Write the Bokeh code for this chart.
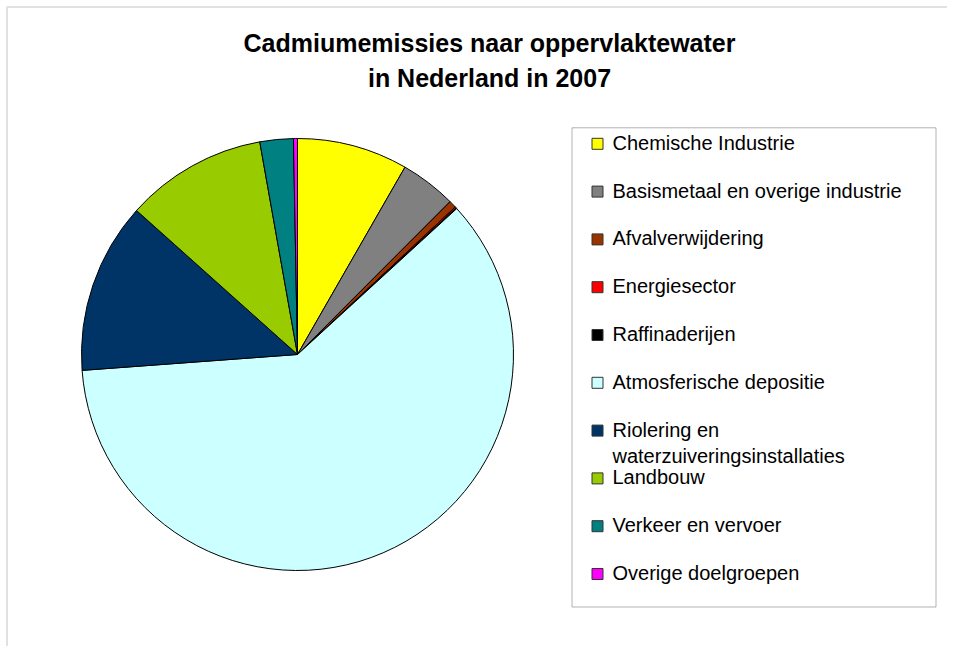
import math
from bokeh.plotting import figure
from bokeh.models import Range1d, BoxAnnotation, ColumnDataSource
from bokeh.core.properties import value
from bokeh.embed import file_html
from bokeh.resources import INLINE

# ---- data (share of cadmium emissions, %) ----
categories = [
    "Chemische Industrie",
    "Basismetaal en overige industrie",
    "Afvalverwijdering",
    "Energiesector",
    "Raffinaderijen",
    "Atmosferische depositie",
    "Riolering en\nwaterzuiveringsinstallaties",
    "Landbouw",
    "Verkeer en vervoer",
    "Overige doelgroepen",
]
values = [8.3, 4.2, 0.55, 0.1, 0.06, 60.7, 12.8, 10.6, 2.5, 0.3]
colors = ["#FFFF00", "#808080", "#993300", "#FF0000", "#000000",
          "#CCFFFF", "#003366", "#99CC00", "#008080", "#FF00FF"]
title_lines = ["Cadmiumemissies naar oppervlaktewater", "in Nederland in 2007"]

# ---- layout (pixel-like data space, y up) ----
W, H = 947, 646
cx, cy, R = 297, 292, 216
font = value("Liberation Sans")

p = figure(width=W, height=H, x_range=Range1d(0, W), y_range=Range1d(0, H),
           output_backend="svg", toolbar_location=None,
           x_axis_location=None, y_axis_location=None, min_border=0,
           outline_line_color=None, background_fill_color="white",
           border_fill_color="white")
p.grid.visible = False

# outer chart border (only top and left visible in the crop)
p.add_layout(BoxAnnotation(left=6.5, right=W + 60, top=H - 6.5, bottom=-60,
                           fill_color=None, line_color="#9A9A9A", line_width=2,
                           level="underlay"))

# ---- pie ----
total = sum(values)
starts, ends = [], []
acc = 0.0
for v in values:
    starts.append(math.pi / 2 - 2 * math.pi * acc / total)
    acc += v
    ends.append(math.pi / 2 - 2 * math.pi * acc / total)
src = ColumnDataSource(dict(start=starts, end=ends, color=colors, cat=categories))
p.wedge(x=cx, y=cy, radius=R, start_angle="start", end_angle="end",
        direction="clock", fill_color="color", line_color="black",
        line_width=1, source=src)

# ---- title ----
title_y = [604, 569]
p.text(x=[489] * len(title_lines), y=title_y, text=title_lines,
       text_font=font, text_font_style="bold", text_font_size="25px",
       text_align="center", text_baseline="alphabetic", text_color="black")

# ---- legend ----
p.add_layout(BoxAnnotation(left=571.5, right=935.5, top=H - 127.3, bottom=H - 606.5,
                           fill_color="white", fill_alpha=1.0,
                           line_color="black", line_width=1, level="underlay"))
step = 47.8
top_center = H - 143.3
line_gap = 26.7
sq_x, sq_y, sq_c = [], [], []
tx, ty, tt = [], [], []
for i, (lab, col) in enumerate(zip(categories, colors)):
    yc = top_center - i * step
    sq_x.append(597)
    sq_y.append(yc)
    sq_c.append(col)
    for j, line in enumerate(lab.split("\n")):
        tx.append(612)
        ty.append(yc + 1 - j * line_gap)
        tt.append(line)
p.rect(x=sq_x, y=sq_y, width=11, height=11, fill_color=sq_c,
       line_color="#333333", line_width=1)
p.text(x=tx, y=ty, text=tt, text_font=font, text_font_size="20px",
       text_align="left", text_baseline="alphabetic", text_color="black")

open("out.html", "w").write(file_html(p, INLINE))
